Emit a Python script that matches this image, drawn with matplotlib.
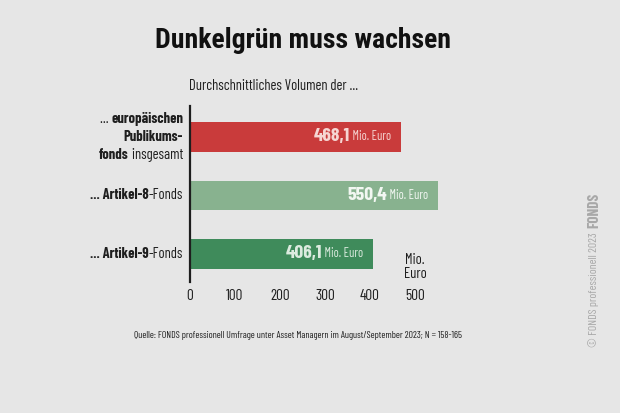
import matplotlib
matplotlib.use("Agg")
from matplotlib import pyplot as plt

plt.rcParams['font.family'] = ['Barlow Condensed', 'DejaVu Sans']

# data
categories = ["europ", "art8", "art9"]
values = [468.1, 550.4, 406.1]
value_labels = ["468,1", "550,4", "406,1"]
bar_colors = ["#c93b3b", "#88b28f", "#3f8b5b"]
text_colors = ["#f6d6d3", "#f2f7f2", "#dcebdf"]
tick_values = [0, 100, 200, 300, 400, 500]

bg = "#e6e6e6"
dark = "#1e1e1e"

fig = plt.figure(figsize=(6.2, 4.13), dpi=100, facecolor=bg)
ax = fig.add_axes([190 / 620, 1 - 282 / 413, 270 / 620, 176 / 413])
ax.set_facecolor(bg)

ypos = list(range(len(values)))
ax.barh(ypos, values, height=0.51, color=bar_colors)
ax.set_xlim(0, 600)
ax.set_ylim(2.48, -0.53)

for s in ['top', 'right', 'bottom']:
    ax.spines[s].set_visible(False)
ax.spines['left'].set_color(dark)
ax.spines['left'].set_linewidth(1.6)
ax.set_yticks([])
ax.set_xticks(tick_values)
ax.set_xticklabels([str(t) for t in tick_values])
ax.tick_params(axis='x', length=0, labelsize=11, colors=dark, pad=5)

# value labels inside bars
for y, v, lab, tc in zip(ypos, values, value_labels, text_colors):
    t = ax.annotate(" Mio. Euro", xy=(v, y), xytext=(-7, 0),
                    textcoords='offset points', ha='right', va='center',
                    fontsize=9, fontweight='normal', color=tc)
    ax.annotate(lab, xy=(0, 0.5), xycoords=t, ha='right', va='center',
                fontsize=14, fontweight='bold', color=tc)


# category labels with mixed bold/regular parts
def label_line(parts, y):
    prev = None
    for txt, bold in reversed(parts):
        w = 'bold' if bold else 'normal'
        if prev is None:
            prev = ax.annotate(txt, xy=(0, y), xytext=(-5, 0),
                               textcoords='offset points', ha='right',
                               va='center', fontsize=10.5, fontweight=w,
                               color=dark)
        else:
            prev = ax.annotate(txt, xy=(0, 0.5), xycoords=prev, ha='right',
                               va='center', fontsize=10.5, fontweight=w,
                               color=dark)


label_line([("... ", False), ("europäischen", True)], -0.3)
label_line([("Publikums-", True)], 0.0)
label_line([("fonds", True), (" insgesamt", False)], 0.3)
label_line([("... Artikel-8", True), ("-Fonds", False)], 1)
label_line([("... Artikel-9", True), ("-Fonds", False)], 2)

ax.annotate("Mio.\nEuro", xy=(500, 2.48), xytext=(0, 1),
            textcoords='offset points', ha='center', va='bottom',
            fontsize=10.5, color=dark, linespacing=0.95)

fig.text(303 / 620, 1 - 40 / 413, "Dunkelgrün muss wachsen", ha='center',
         va='center', fontsize=20, fontweight='heavy', color="#111111",
         family=['Roboto Condensed', 'DejaVu Sans'])
fig.text(189 / 620, 1 - 86 / 413, "Durchschnittliches Volumen der ...",
         ha='left', va='center', fontsize=10.5, color=dark)
fig.text(298 / 620, 1 - 335 / 413,
         "Quelle: FONDS professionell Umfrage unter Asset Managern im "
         "August/September 2023; N = 158-165",
         ha='center', va='center', fontsize=7, color=dark)
fig.text(594 / 620, 1 - 290 / 413, "© FONDS professionell 2023",
         rotation=90, ha='center', va='center', fontsize=8.5,
         color="#a8a8a8")
fig.text(594 / 620, 1 - 210 / 413, "FONDS", rotation=90, ha='center',
         va='center', fontsize=11, fontweight='bold', color="#a8a8a8")

fig.savefig("out.png", dpi=100, facecolor=bg)
